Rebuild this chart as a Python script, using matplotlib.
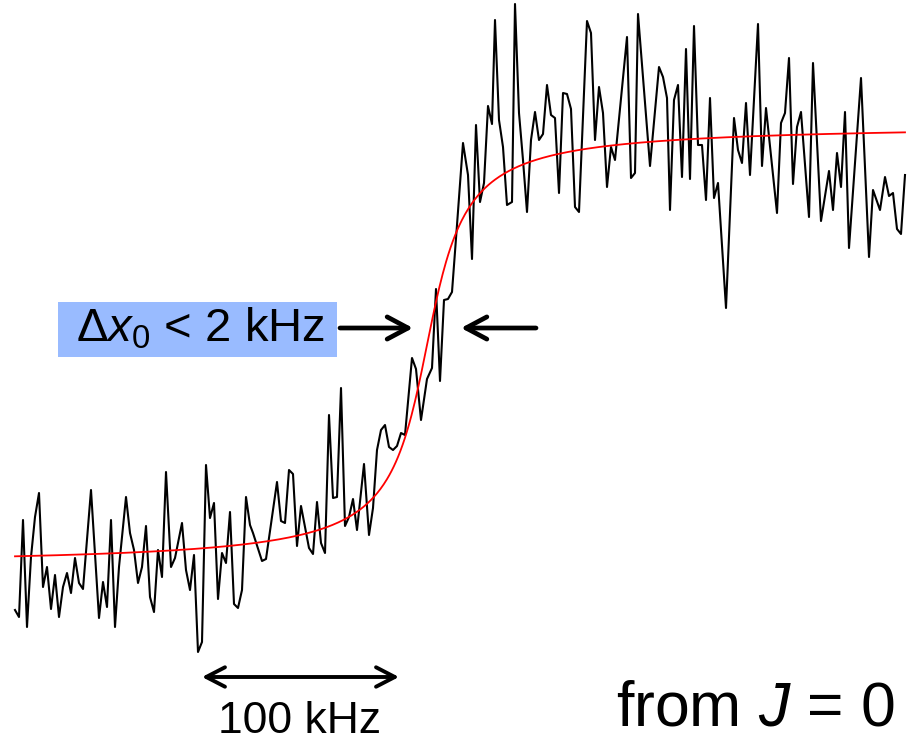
import numpy as np
import matplotlib
matplotlib.use("Agg")
import matplotlib.pyplot as plt

plt.rcParams['font.family'] = ['Liberation Sans', 'DejaVu Sans']
plt.rcParams['mathtext.fontset'] = 'custom'
plt.rcParams['mathtext.rm'] = 'Liberation Sans'
plt.rcParams['mathtext.it'] = 'Liberation Sans:italic'

# Measured trace (frequency in arb. units, signal in arb. units)
freq = [15, 19, 23, 27, 31, 35, 39, 43, 47, 51, 55, 59, 63, 67, 71, 75, 79, 83, 91, 99,
        103, 107, 111, 115, 119, 126, 130, 134, 138, 142, 146, 150, 154, 158, 162, 166, 171, 175, 182, 186,
        190, 194, 198, 202, 206, 210, 214, 218, 222, 226, 230, 234, 238, 242, 246, 250, 253, 262, 266, 273,
        277, 281, 285, 289, 293, 297, 301, 309, 313, 317, 321, 325, 329, 333, 337, 341, 345, 349, 353, 357,
        364, 369, 373, 377, 381, 385, 389, 393, 397, 401, 405, 412, 416, 421, 427, 432, 436, 440, 444, 448,
        452, 457, 463, 468, 472, 476, 480, 484, 488, 492, 495, 499, 503, 507, 512, 515, 519, 523, 527, 531,
        535, 539, 543, 547, 551, 555, 559, 563, 567, 571, 575, 579, 587, 591, 595, 599, 603, 607, 611, 615,
        627, 631, 635, 638, 650, 659, 663, 667, 670, 674, 678, 682, 686, 690, 694, 698, 702, 706, 710, 714,
        718, 726, 734, 738, 742, 746, 750, 758, 762, 766, 777, 781, 785, 789, 793, 797, 801, 809, 813, 821,
        829, 833, 837, 841, 845, 849, 861, 869, 873, 880, 885, 889, 893, 897, 901, 905]
signal = [132, 125, 222, 115, 185, 225, 249, 155, 175, 133, 167, 125, 155, 169, 149, 184, 159, 153, 252, 124,
          160, 135, 222, 115, 175, 245, 209, 192, 159, 175, 216, 145, 130, 192, 165, 270, 175, 184, 219, 172,
          152, 187, 90, 100, 277, 224, 239, 143, 189, 179, 230, 138, 134, 152, 245, 217, 209, 181, 183, 232,
          260, 221, 219, 272, 268, 196, 236, 194, 188, 240, 199, 189, 327, 244, 245, 354, 216, 225, 243, 212,
          278, 207, 234, 292, 312, 317, 295, 292, 296, 309, 307, 384, 373, 322, 363, 374, 453, 361, 442, 443,
          450, 517, 599, 567, 483, 617, 540, 559, 636, 618, 722, 622, 595, 537, 540, 738, 629, 582, 530, 602,
          630, 602, 608, 657, 627, 624, 549, 649, 648, 633, 535, 530, 721, 709, 602, 655, 629, 555, 595, 582,
          705, 564, 569, 728, 576, 675, 665, 644, 532, 642, 657, 565, 693, 563, 716, 597, 597, 542, 644, 544,
          559, 434, 624, 592, 579, 639, 567, 718, 576, 634, 529, 619, 629, 684, 558, 615, 630, 525, 679, 521,
          571, 532, 589, 555, 630, 494, 664, 485, 552, 532, 565, 546, 549, 513, 508, 567]

# Fitted step (arctan profile) parameters
fit_center = 427.0
fit_width = 28.4
fit_low = 176.0
fit_high = 618.0

fig = plt.figure(figsize=(9.1, 7.42), dpi=100)
ax = fig.add_axes([0, 0, 1, 1])
ax.set_xlim(0, 910)
ax.set_ylim(0, 742)
ax.axis('off')

ax.plot(freq, signal, color='black', lw=1.5, zorder=2)

xf = np.linspace(min(freq), max(freq), 800)
mid = (fit_low + fit_high) / 2
yf = mid + (fit_high - fit_low) / np.pi * np.arctan((xf - fit_center) / fit_width)
ax.plot(xf, yf, color='#ff0000', lw=1.3, zorder=3)

# Annotations
ax.add_patch(plt.Rectangle((58, 385), 279, 55, fc='#99bbff', ec='none', zorder=4))
ax.text(201, 413, r'$\Delta x_0$ < 2 kHz', fontsize=34, ha='center', va='center', zorder=5)
arrow_kw = dict(arrowstyle='->,head_length=1.5,head_width=0.8', lw=3.4, color='black',
                shrinkA=0, shrinkB=0)
ax.annotate('', xy=(413, 414), xytext=(340, 414), arrowprops=arrow_kw)
ax.annotate('', xy=(461, 414), xytext=(536, 414), arrowprops=arrow_kw)
ax.annotate('', xy=(399, 65), xytext=(202, 65),
            arrowprops=dict(arrowstyle='<->,head_length=1.35,head_width=0.7', lw=2.8,
                            color='black', shrinkA=0, shrinkB=0))
ax.text(300, 0, '100 kHz', fontsize=32, ha='center', va='bottom')
ax.text(895, 4, r'from $J$ = 0', fontsize=45, ha='right', va='bottom')

fig.savefig('out.png', dpi=100)
